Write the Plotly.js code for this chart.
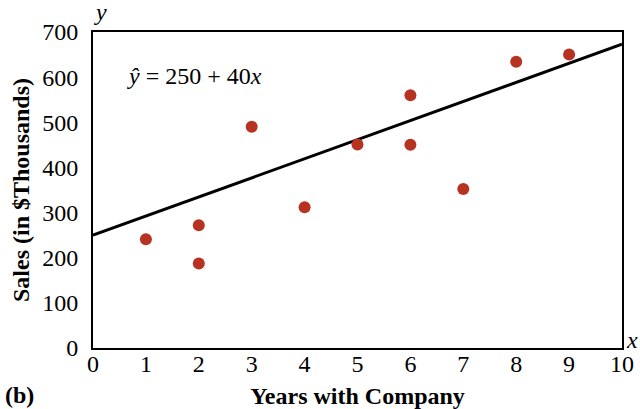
<!DOCTYPE html>
<html>
<head>
<meta charset="utf-8">
<script src="https://cdn.plot.ly/plotly-3.0.1.min.js"></script>
<style>html,body{margin:0;padding:0;background:#fff;}#chart{width:640px;height:409px;}</style>
</head>
<body>
<div id="chart"></div>
<script>
const years = [1, 2, 2, 3, 4, 5, 6, 6, 7, 8, 9];
const sales = [241, 272, 187, 490, 312, 451, 560, 450, 352, 634, 650];
const lineX = [0, 10];
const lineY = [250, 673];
const xTicks = [0,1,2,3,4,5,6,7,8,9,10];
const yTicks = [0,100,200,300,400,500,600,700];

const serif = 'Liberation Serif, Times New Roman, serif';
const traces = [
  {x: lineX, y: lineY, mode: 'lines', line: {color: '#000', width: 3}, hoverinfo: 'skip', showlegend: false},
  {x: years, y: sales, mode: 'markers', marker: {color: '#b83222', size: 12}, showlegend: false}
];
const layout = {
  width: 640, height: 409,
  margin: {l: 93, r: 18, t: 32, b: 61},
  paper_bgcolor: '#fff', plot_bgcolor: '#fff',
  font: {family: serif, color: '#000', size: 24},
  xaxis: {range: [0, 10], tickvals: xTicks, ticktext: xTicks.map(String), showgrid: false, zeroline: false,
    showline: true, linecolor: '#000', linewidth: 2, mirror: true, ticks: '', ticklabelstandoff: -7,
    tickfont: {family: serif, size: 24},
    title: {text: '<b>Years with Company</b>', font: {family: serif, size: 24}, standoff: 13}},
  yaxis: {range: [0, 700], tickvals: yTicks, showgrid: false, zeroline: false,
    showline: true, linecolor: '#000', linewidth: 2, mirror: true, ticks: '', ticklabelstandoff: 8,
    tickfont: {family: serif, size: 24},
    title: {text: '<b>Sales (in $Thousands)</b>', font: {family: serif, size: 24}, standoff: 6}},
  annotations: [
    {xref: 'paper', yref: 'paper', x: 0.06, y: 0.86, xanchor: 'left', yanchor: 'middle', showarrow: false,
     text: '<i>ŷ</i> = 250 + 40<i>x</i>', font: {family: serif, size: 24}},
    {xref: 'paper', yref: 'paper', x: -0.002, y: 1.015, xanchor: 'left', yanchor: 'bottom', showarrow: false,
     text: '<i>y</i>', font: {family: serif, size: 24}},
    {xref: 'paper', yref: 'paper', x: 1.003, y: 0.025, xanchor: 'left', yanchor: 'middle', showarrow: false,
     text: '<i>x</i>', font: {family: serif, size: 24}},
    {xref: 'paper', yref: 'paper', x: -90/529, y: -47/316, xanchor: 'left', yanchor: 'middle', showarrow: false,
     text: '<b>(b)</b>', font: {family: serif, size: 24}}
  ]
};
Plotly.newPlot('chart', traces, layout, {displayModeBar: false, staticPlot: true});
</script>
</body>
</html>
